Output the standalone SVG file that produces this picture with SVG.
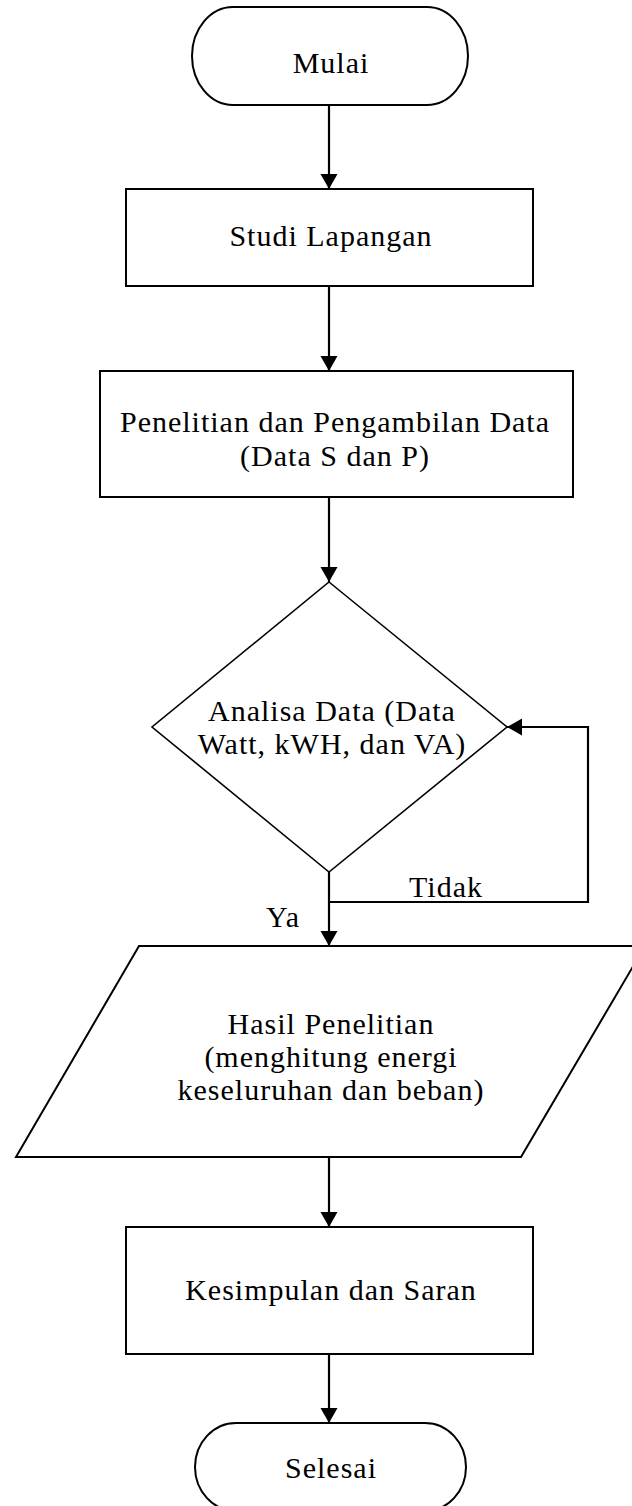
<svg xmlns="http://www.w3.org/2000/svg" width="632" height="1506" viewBox="0 0 632 1506">
<style>
.s{fill:#fff;stroke:#000;stroke-width:2}
.d{fill:#fff;stroke:#000;stroke-width:1.6}
.c{fill:none;stroke:#000;stroke-width:2.2}
text{font-family:"Liberation Serif","Times New Roman",serif;font-size:30px;fill:#000;text-anchor:middle;letter-spacing:1px}
</style>
<defs>
<marker id="ah" markerUnits="userSpaceOnUse" markerWidth="20" markerHeight="20" viewBox="0 0 20 20" refX="18" refY="10" orient="auto">
<path d="M3,1.5 L18,10 L3,18.5 Z" fill="#000"/>
</marker>
</defs>
<rect width="632" height="1506" fill="#fff"/>
<g id="connectors">
<line class="c" x1="329" y1="105" x2="329" y2="189" marker-end="url(#ah)"/>
<line class="c" x1="329" y1="286" x2="329" y2="371" marker-end="url(#ah)"/>
<line class="c" x1="329" y1="497" x2="329" y2="582" marker-end="url(#ah)"/>
<line class="c" x1="329" y1="872" x2="329" y2="946" marker-end="url(#ah)"/>
<polyline class="c" points="329,902 588,902 588,727 507,727" marker-end="url(#ah)"/>
<line class="c" x1="329" y1="1157" x2="329" y2="1227" marker-end="url(#ah)"/>
<line class="c" x1="329" y1="1354" x2="329" y2="1423" marker-end="url(#ah)"/>
<text x="446" y="897">Tidak</text>
<text x="283" y="927">Ya</text>
</g>
<g id="mulai">
<path class="s" d="M233,7 H427 A41,49 0 0 1 427,105 H233 A41,49 0 0 1 233,7 Z"/>
<text x="331" y="73">Mulai</text>
</g>
<g id="studi">
<rect class="s" x="126" y="189" width="407" height="97"/>
<text x="331" y="246">Studi Lapangan</text>
</g>
<g id="penelitian">
<rect class="s" x="100" y="371" width="473" height="126"/>
<text x="335" y="432">Penelitian dan Pengambilan Data</text>
<text x="335" y="466">(Data S dan P)</text>
</g>
<g id="analisa">
<polygon class="d" points="329,582 507,727 329,872 152,727"/>
<text x="332" y="721">Analisa Data (Data</text>
<text x="332" y="754">Watt, kWH, dan VA)</text>
</g>
<g id="hasil">
<polygon class="s" points="139,946 645,946 521,1157 16,1157"/>
<text x="331" y="1034">Hasil Penelitian</text>
<text x="331" y="1067">(menghitung energi</text>
<text x="331" y="1100">keseluruhan dan beban)</text>
</g>
<g id="kesimpulan">
<rect class="s" x="126" y="1227" width="407" height="127"/>
<text x="331" y="1300">Kesimpulan dan Saran</text>
</g>
<g id="selesai">
<path class="s" d="M236,1423 H425 A41,44 0 0 1 425,1511 H236 A41,44 0 0 1 236,1423 Z"/>
<text x="331" y="1478">Selesai</text>
</g>
</svg>
